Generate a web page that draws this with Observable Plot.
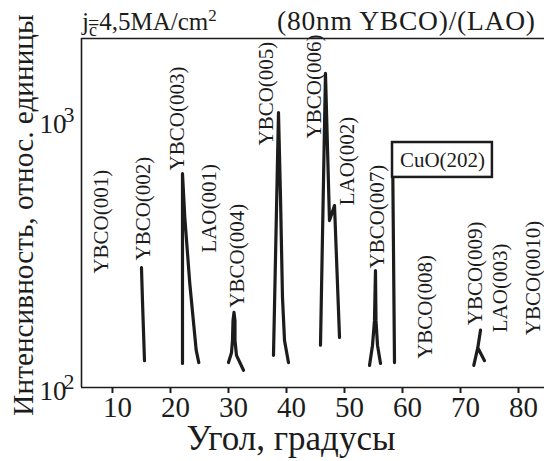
<!DOCTYPE html>
<html><head><meta charset="utf-8">
<script src="https://cdn.jsdelivr.net/npm/d3@7"></script>
<script src="https://cdn.jsdelivr.net/npm/@observablehq/plot@0.6"></script>
<style>
html,body{margin:0;padding:0;background:#fff;}
#chart{width:544px;height:461px;overflow:hidden;}
</style></head><body><div id="chart"></div>
<script>
// ---- data (angle in degrees, intensity in arbitrary units) ----
const peakNames = ["YBCO(002)", "YBCO(003)+LAO(001)", "YBCO(004)", "YBCO(005)", "YBCO(006)+LAO(002)", "YBCO(007)", "CuO(202)", "YBCO(009)"];
const peakAngles = [
  [15.0, 15.17, 15.52],
  [22.07, 22.07, 22.47, 23.33, 24.43, 24.88],
  [30.0, 30.52, 30.69, 30.78, 30.95, 31.12, 31.12, 31.38, 32.59],
  [37.76, 38.62, 38.97, 39.31, 39.66, 40.34],
  [45.86, 46.72, 47.41, 48.28, 49.14],
  [54.31, 54.83, 55.17, 55.34, 55.43, 55.69, 56.21],
  [58.28, 58.62],
  [72.29, 72.98, 73.45, 72.98, 74.14]
];
const peakCounts = [
  [281, 212, 126],
  [123, 633, 433, 245, 138, 124],
  [124, 135, 150, 178, 191, 178, 150, 132, 116],
  [132, 1071, 515, 217, 150, 124],
  [144, 1500, 422, 480, 154],
  [121, 144, 178, 274, 178, 144, 123],
  [827, 124],
  [121, 141, 164, 141, 126]
];
const labelTexts = ["YBCO(001)", "YBCO(002)", "YBCO(003)", "LAO(001)", "YBCO(004)", "YBCO(005)", "YBCO(006)", "LAO(002)", "YBCO(007)", "YBCO(008)", "YBCO(009)", "LAO(003)", "YBCO(0010)"];
const labelAngles = [8.10, 15.34, 21.21, 26.72, 31.55, 36.55, 44.83, 50.52, 55.69, 63.97, 72.59, 76.90, 82.6];
const labelCounts = [267, 299, 650, 320, 199, 806, 857, 481, 279, 128, 171, 161, 157];
const boxText = "CuO(202)";
const boxAngles = [58.28, 75.5];
const boxCounts = [612, 827];
const xTicks = [10, 20, 30, 40, 50, 60, 70, 80];
const yTicks = [100, 1000];
const yTickBase = "10";
const yTickExp = ["2", "3"];
const xDomain = [4.66, 84.48];
const yDomain = [100, 2028];
const titleLeft = ["j", "c", "=", "4,5MA/cm", "2"];
const titleRight = "(80nm YBCO)/(LAO)";
const xLabel = "Угол, градусы";
const yLabel = "Интенсивность, относ. единицы";

// ---- build tables ----
const rows = [];
peakNames.forEach((p, i) => peakAngles[i].forEach((a, j) => rows.push({peak: p, angle: a, count: peakCounts[i][j]})));
const labels = labelTexts.map((t, i) => ({text: t, angle: labelAngles[i], count: labelCounts[i]}));
const box = [{x1: boxAngles[0], x2: boxAngles[1], y1: boxCounts[0], y2: boxCounts[1], text: boxText}];

const INK = "#1c1c1c";
const SERIF = "'Liberation Serif', 'Times New Roman', serif";

const chart = Plot.plot({
  width: 544, height: 461,
  marginLeft: 81, marginRight: 0, marginTop: 38, marginBottom: 74,
  style: {fontFamily: SERIF, color: INK, background: "#fff", overflow: "visible"},
  x: {domain: xDomain},
  y: {type: "log", domain: yDomain},
  marks: [
    Plot.ruleY(yDomain, {stroke: INK, strokeWidth: 1.6}),
    Plot.ruleX([xDomain[0]], {stroke: INK, strokeWidth: 1.6}),
    Plot.axisX({ticks: xTicks, tickSize: 6, tickFormat: () => "", label: null, strokeWidth: 2}),
    Plot.axisX({ticks: xTicks, tickSize: 0, tickPadding: 9, dx: 5, fontSize: 29, tickFormat: d => String(d), label: null}),
    Plot.axisY({ticks: yTicks, tickSize: 0, tickPadding: 7, dy: 4, fontSize: 27, tickFormat: d => yTickBase + "^" + yTickExp[yTicks.indexOf(d)], label: null}),
    Plot.line(rows, {x: "angle", y: "count", z: "peak", stroke: INK, strokeWidth: 3.2, strokeLinejoin: "round", strokeLinecap: "round"}),
    Plot.rect(box, {x1: "x1", x2: "x2", y1: "y1", y2: "y2", fill: "white", stroke: INK, strokeWidth: 2.5}),
    Plot.text(box, {x: d => (d.x1 + d.x2) / 2, y: d => Math.sqrt(d.y1 * d.y2), text: "text", fontSize: 21, fill: INK}),
    Plot.text(labels, {x: "angle", y: "count", text: "text", rotate: -90, textAnchor: "start", fontSize: 21, fill: INK})
  ]
});

document.getElementById("chart").appendChild(chart);
const svg = d3.select(chart);

// y tick labels with superscript exponents
svg.selectAll('g[aria-label="y-axis tick label"] text').each(function() {
  const t = d3.select(this);
  const parts = t.text().split("^");
  t.text(null);
  t.append("tspan").text(parts[0]);
  t.append("tspan").attr("font-size", 22).attr("dx", -3).attr("dy", -11).text(parts[1]);
});

// titles
const tl = svg.append("text").attr("x", 82).attr("y", 30).attr("text-anchor", "start").attr("font-size", 25).attr("font-family", SERIF).attr("fill", INK);
tl.append("tspan").text(titleLeft[0]);
tl.append("tspan").attr("font-size", 18).attr("dy", 6).text(titleLeft[1]);
tl.append("tspan").attr("font-size", 20).attr("dx", -9).attr("dy", -6).text(titleLeft[2]);
tl.append("tspan").text(titleLeft[3]);
tl.append("tspan").attr("font-size", 17).attr("dy", -9).text(titleLeft[4]);

svg.append("text").attr("x", 277).attr("y", 30).attr("text-anchor", "start").attr("font-size", 27.5).attr("textLength", 258).attr("lengthAdjust", "spacing").attr("font-family", SERIF).attr("fill", INK).text(titleRight);

svg.append("text").attr("x", 291).attr("y", 450).attr("text-anchor", "middle").attr("font-size", 35).attr("font-family", SERIF).attr("fill", INK).text(xLabel);

svg.append("text").attr("transform", "translate(33,215) rotate(-90)").attr("text-anchor", "middle").attr("font-size", 29.3).attr("font-family", SERIF).attr("fill", INK).text(yLabel);
</script></body></html>
